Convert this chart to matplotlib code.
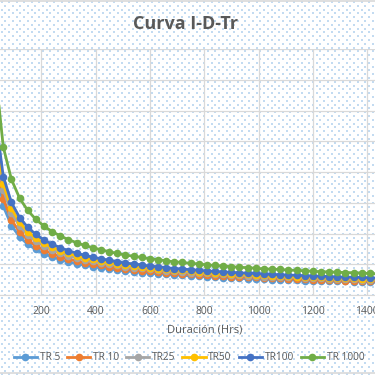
import numpy as np
import matplotlib
matplotlib.use('Agg')
import matplotlib.pyplot as plt
from matplotlib.lines import Line2D

plt.rcParams['font.family'] = ['Open Sans', 'DejaVu Sans']

# Duración (Hrs)
duracion = list(range(30, 1441, 30))

# Intensity per return period
tr5 = [44.0, 28.9, 22.6, 18.9, 16.5, 14.8, 13.4, 12.4, 11.5, 10.8, 10.2, 9.7,
       9.2, 8.8, 8.5, 8.1, 7.8, 7.6, 7.3, 7.1, 6.9, 6.7, 6.5, 6.4,
       6.2, 6.1, 5.9, 5.8, 5.6, 5.5, 5.4, 5.3, 5.2, 5.1, 5.0, 5.0,
       4.9, 4.8, 4.7, 4.6, 4.6, 4.5, 4.4, 4.4, 4.3, 4.3, 4.2, 4.1]
tr10 = [47.7, 31.3, 24.4, 20.5, 17.9, 16.0, 14.6, 13.4, 12.5, 11.7, 11.1, 10.5,
        10.0, 9.6, 9.2, 8.8, 8.5, 8.2, 7.9, 7.7, 7.5, 7.2, 7.0, 6.9,
        6.7, 6.6, 6.4, 6.2, 6.1, 6.0, 5.9, 5.8, 5.7, 5.5, 5.5, 5.4,
        5.3, 5.2, 5.1, 5.0, 4.9, 4.9, 4.8, 4.7, 4.7, 4.6, 4.6, 4.5]
tr25 = [52.1, 34.2, 26.7, 22.4, 19.5, 17.5, 15.9, 14.6, 13.6, 12.8, 12.1, 11.4,
        10.9, 10.4, 10.0, 9.6, 9.2, 8.9, 8.7, 8.4, 8.2, 7.9, 7.7, 7.5,
        7.3, 7.2, 7.0, 6.8, 6.7, 6.5, 6.4, 6.3, 6.2, 6.0, 6.0, 5.9,
        5.8, 5.7, 5.6, 5.5, 5.4, 5.3, 5.3, 5.2, 5.1, 5.0, 5.0, 4.9]
tr50 = [55.1, 36.1, 28.2, 23.6, 20.6, 18.5, 16.8, 15.5, 14.4, 13.5, 12.8, 12.1,
        11.6, 11.0, 10.6, 10.1, 9.8, 9.5, 9.2, 8.9, 8.6, 8.3, 8.1, 8.0,
        7.7, 7.6, 7.4, 7.2, 7.1, 6.9, 6.8, 6.7, 6.5, 6.4, 6.3, 6.2,
        6.1, 6.0, 5.9, 5.8, 5.7, 5.6, 5.6, 5.5, 5.4, 5.3, 5.3, 5.2]
tr100 = [58.7, 38.5, 30.1, 25.2, 22.0, 19.7, 17.9, 16.5, 15.4, 14.4, 13.6, 12.9,
         12.3, 11.8, 11.3, 10.8, 10.4, 10.1, 9.8, 9.4, 9.2, 8.9, 8.6, 8.5,
         8.2, 8.1, 7.8, 7.7, 7.5, 7.4, 7.2, 7.1, 7.0, 6.8, 6.7, 6.6,
         6.5, 6.4, 6.3, 6.2, 6.1, 6.0, 5.9, 5.8, 5.8, 5.7, 5.6, 5.5]
tr1000 = [73.4, 48.1, 37.6, 31.5, 27.5, 24.6, 22.4, 20.6, 19.2, 18.0, 17.0, 16.1,
          15.4, 14.7, 14.1, 13.5, 13.0, 12.6, 12.2, 11.8, 11.5, 11.1, 10.8, 10.6,
          10.3, 10.1, 9.8, 9.6, 9.4, 9.2, 9.0, 8.9, 8.7, 8.5, 8.4, 8.3,
          8.1, 8.0, 7.9, 7.7, 7.6, 7.5, 7.4, 7.3, 7.2, 7.1, 7.0, 6.9]

series = [("TR 5", tr5, '#5B9BD5'),
          ("TR 10", tr10, '#ED7D31'),
          ("TR25", tr25, '#A5A5A5'),
          ("TR50", tr50, '#FFC000'),
          ("TR100", tr100, '#4472C4'),
          ("TR 1000", tr1000, '#70AD47')]

W = H = 375
fig = plt.figure(figsize=(3.75, 3.75), dpi=100)
fig.patch.set_facecolor('white')

# dotted pattern background (Excel pattern fill)
bg = fig.add_axes([0, 0, 1, 1], zorder=0)
bg.set_xlim(0, W)
bg.set_ylim(H, 0)
bg.axis('off')
for j, yy in enumerate(np.arange(2, H, 3.8)):
    xx = np.arange(1.5 + (j % 2) * 3.75, W, 7.5)
    bg.scatter(xx, np.full_like(xx, yy, dtype=float), s=0.7, marker='s',
               color='#C3DBF1', linewidths=0)
# chart border (top and bottom visible)
bg.plot([0, W], [1, 1], color='#D9D9D9', lw=1.2)
bg.plot([0, W], [372.5, 372.5], color='#D9D9D9', lw=1.2)

# plot area: x=0 sits just left of the canvas, x=1600 beyond the right edge
px0, px_per = -13, 0.2715
left = px0 / W
width = 1600 * px_per / W
ax = fig.add_axes([left, (H - 295) / H, width, 246 / H], zorder=1)
ax.set_facecolor('none')

for name, vals, col in series:
    ax.plot(duracion, vals, color=col, lw=2.0, marker='o', ms=5.5,
            markeredgewidth=0, label=name, clip_on=True)

ax.set_xlim(0, 1600)
ax.set_ylim(0, 80)
ticks = list(range(0, 1601, 200))
ax.set_xticks(ticks)
ax.set_xticklabels(['' if v == 0 else str(v) for v in ticks])
ax.set_yticks(range(0, 81, 10))
ax.set_yticklabels([])
ax.grid(True, color='#D9D9D9', lw=0.9)
ax.set_axisbelow(True)
for s in ['top', 'right', 'left']:
    ax.spines[s].set_visible(False)
ax.spines['bottom'].set_color('#D9D9D9')
ax.tick_params(length=0, labelsize=7.5, colors='#595959', pad=8)
ax.set_xlabel('Duración (Hrs)', fontsize=8, color='#595959', labelpad=5)

fig.text(186 / W, 1 - 24 / H, 'Curva I-D-Tr', ha='center', va='center',
         fontsize=13, fontweight='bold', color='#595959')

handles = [Line2D([], [], color=c, lw=2.0, marker='o', ms=5.5, markeredgewidth=0)
           for _, _, c in series]
fig.legend(handles, [n for n, _, _ in series], loc='center',
           bbox_to_anchor=(189 / W, 1 - 358 / H), ncol=6, frameon=False,
           fontsize=7.3, handlelength=2.3, handletextpad=0.25, columnspacing=0.7,
           labelcolor='#595959')

fig.savefig('out.png', dpi=100)
